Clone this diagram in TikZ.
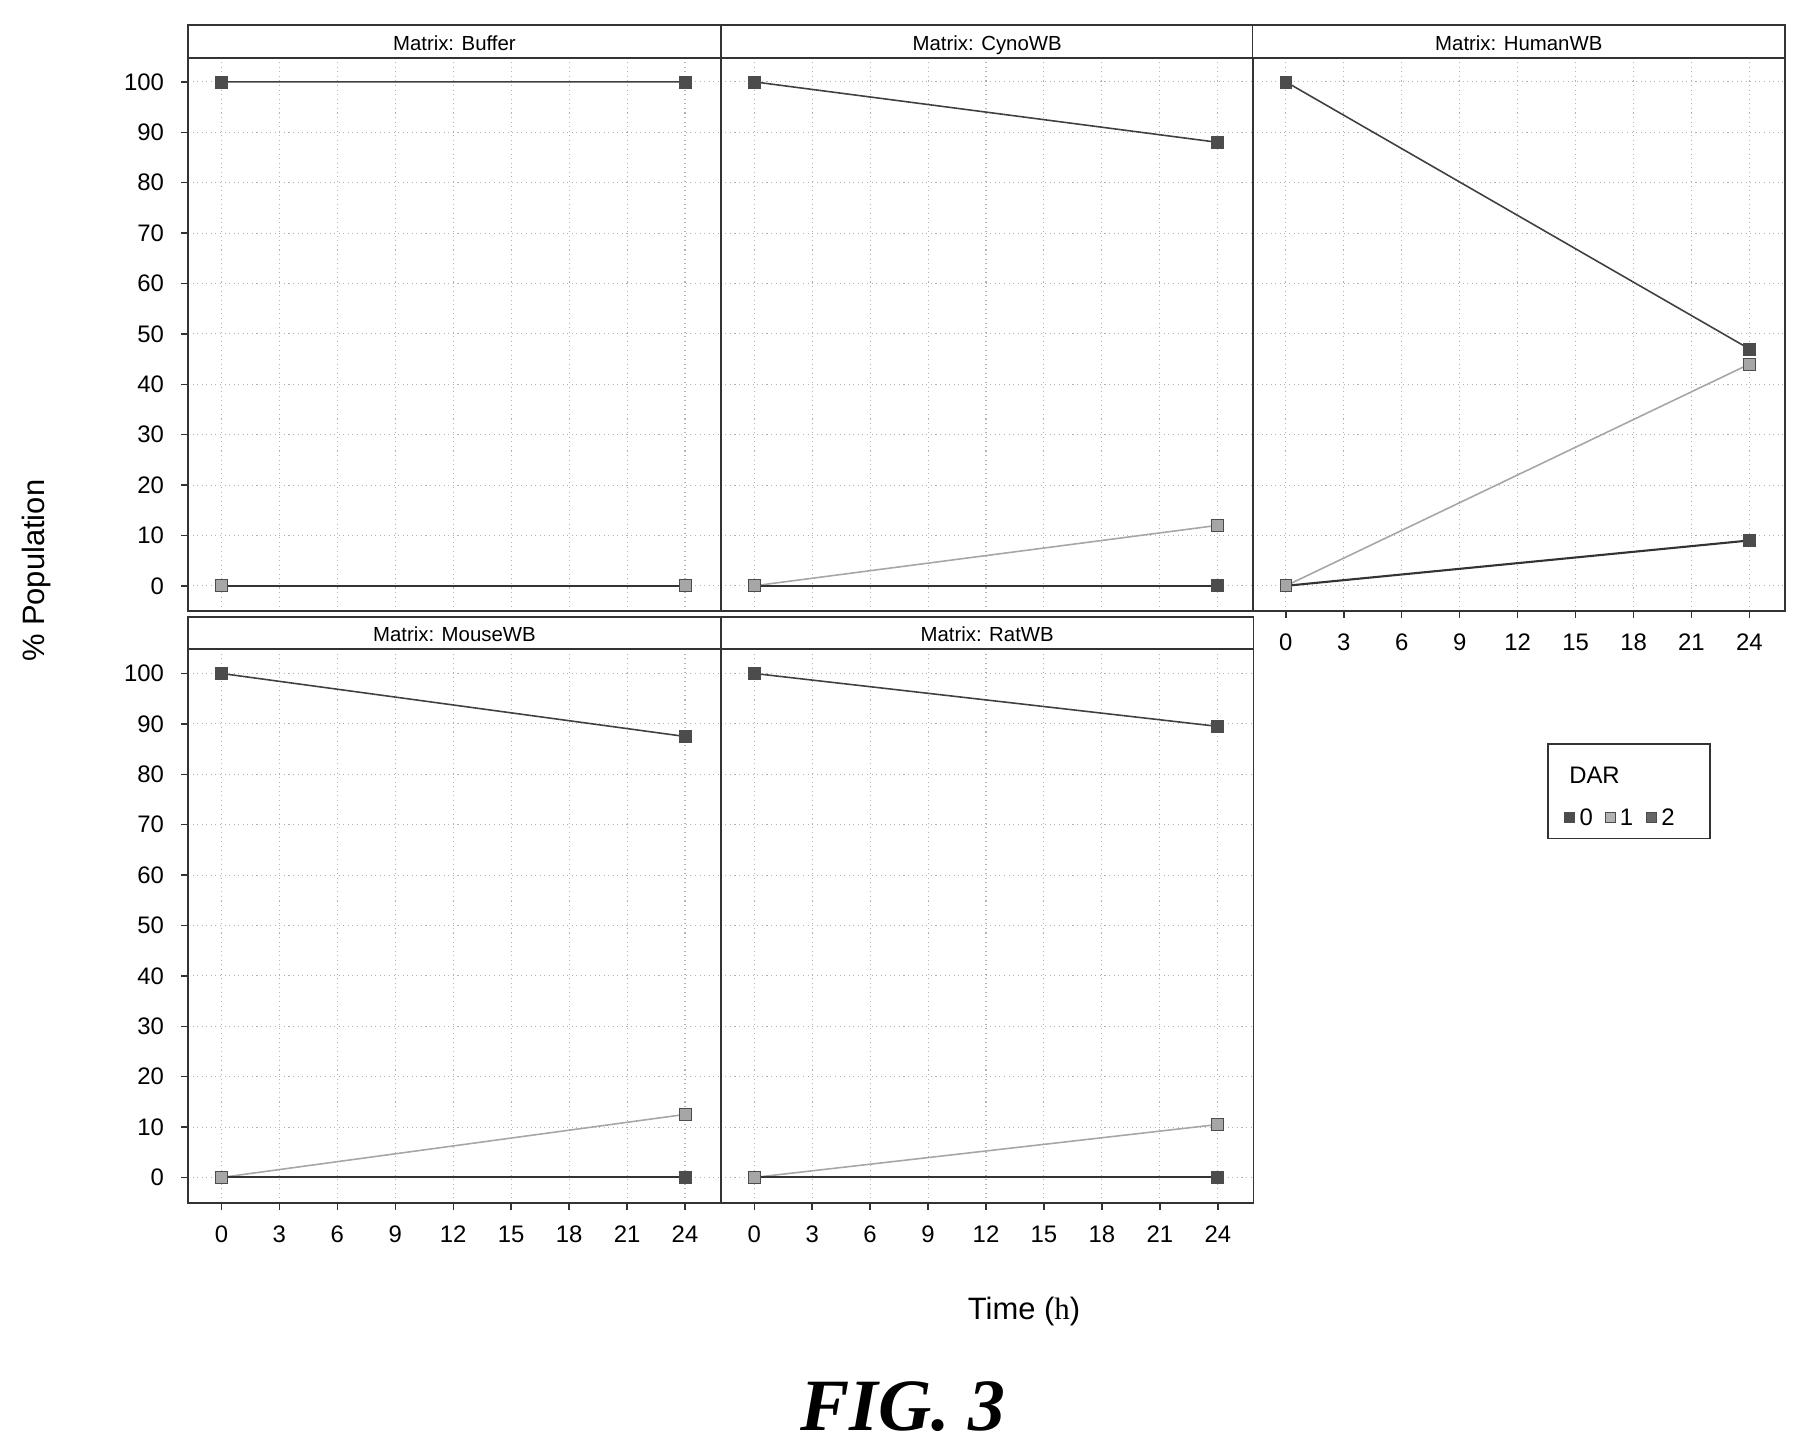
\documentclass[tikz,border=0pt]{standalone}
\usepackage{fontspec}
\setmainfont{Liberation Sans}
\newfontfamily\serifit{Liberation Serif}
\begin{document}
\begin{tikzpicture}[x=0.011538cm,y=-0.011538cm,
  grid/.style={gray!60,densely dotted,line width=0.3pt},
  frame/.style={draw=black!80,line width=0.5pt},
  ttl/.style={font=\fontsize{5.8}{6}\selectfont,text height=1.6ex,text depth=0.3ex},
  tick/.style={font=\fontsize{6.8}{7}\selectfont},
  mk/.style={fill=#1,draw=black!70,line width=0.2pt,minimum size=0.12cm,inner sep=0pt,shape=rectangle}]
\useasboundingbox (0,0) rectangle (1560,1251);
\newcommand{\mypanel}[6]{%
\begin{scope}[shift={(#1,#2)}]
 \draw[frame,fill=white] (0,-28) rectangle (462,0);
 \node[ttl] at (231,-17) {Matrix: #3};
 \foreach \t in {0,3,...,24} \draw[grid] ({29+\t*16.75},0) -- ({29+\t*16.75},480);
 \foreach \v in {0,10,...,100} \draw[grid] (0,{458-4.37*\v}) -- (462,{458-4.37*\v});
 \draw[frame] (0,0) rectangle (462,480);
 \draw[black!75,line width=0.45pt] (29,21) -- (431,{458-4.37*#4});
 \draw[gray!70,line width=0.45pt] (29,458) -- (431,{458-4.37*#5});
 \draw[black!80,line width=0.6pt] (29,458) -- (431,{458-4.37*#6});
 \node[mk=black!70] at (29,21) {};
 \node[mk=gray!70] at (29,458) {};
 \node[mk=black!70] at (431,{458-4.37*#6}) {};
 \node[mk=gray!70] at (431,{458-4.37*#5}) {};
 \node[mk=black!70] at (431,{458-4.37*#4}) {};
\end{scope}}
\mypanel{163}{50}{Buffer}{100}{0}{0}
\mypanel{625}{50}{CynoWB}{88}{12}{0}
\mypanel{1086}{50}{HumanWB}{47}{44}{9}
\mypanel{163}{563}{MouseWB}{87.5}{12.5}{0}
\mypanel{625}{563}{RatWB}{89.5}{10.5}{0}
% y ticks
\foreach \yb in {50,563} \foreach \v in {0,10,...,100} {
  \draw[black!80,line width=0.4pt] (157,{\yb+458-4.37*\v}) -- (163,{\yb+458-4.37*\v});
  \node[tick,anchor=east] at (153,{\yb+458-4.37*\v}) {\v};}
% x ticks
\foreach \xb/\yb in {163/1043,625/1043,1086/530} \foreach \t in {0,3,...,24} {
  \draw[black!80,line width=0.4pt] ({\xb+29+\t*16.75},\yb) -- ({\xb+29+\t*16.75},{\yb+6});
  \node[tick] at ({\xb+29+\t*16.75},{\yb+27}) {\t};}
\node[rotate=90,font=\fontsize{8.8}{9}\selectfont] (yl) at (32,495) {\% Population};
\node[font=\fontsize{8.8}{9}\selectfont] (xl) at (888,1137) {Time ({\serifit h})};
\node[font=\fontsize{21}{22}\selectfont\serifit\bfseries\itshape] (fig) at (783,1220) {FIG. 3};
% legend
\draw[frame] (1342,645) rectangle (1483,727);
\node[tick,anchor=west] (lt) at (1350,672) {DAR};
\node[mk=black!70,minimum size=0.1cm] at (1361,709) {};
\node[tick,anchor=west,inner sep=1pt] at (1366,709) {0};
\node[mk=gray!60,minimum size=0.1cm] at (1396,709) {};
\node[tick,anchor=west,inner sep=1pt] at (1401,709) {1};
\node[mk=black!60,minimum size=0.1cm] at (1432,709) {};
\node[tick,anchor=west,inner sep=1pt] at (1437,709) {2};
\end{tikzpicture}
\end{document}
